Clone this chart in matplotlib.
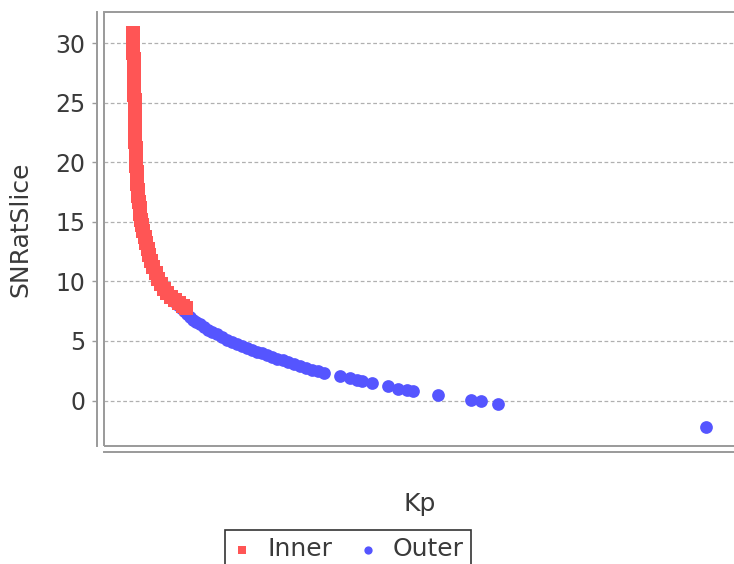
import numpy as np
import matplotlib
matplotlib.use('Agg')
from matplotlib import pyplot as plt
from matplotlib.patches import Rectangle

# Inner series (Kp, SNRatSlice)
inner_kp = [4.56, 4.56, 4.56, 4.59, 4.62, 4.64, 4.65, 4.69, 4.72, 4.72,
            4.75, 4.78, 4.81, 4.84, 4.86, 4.87, 4.89, 4.91, 4.94, 4.95,
            4.98, 5.02, 5.05, 5.08, 5.13, 5.19, 5.25, 5.33, 5.41, 5.50,
            5.60, 5.72, 5.86, 6.02, 6.19, 6.38, 6.60, 6.84, 7.11, 7.39,
            7.74, 8.11, 8.55, 8.96, 9.43, 9.98, 10.53, 11.16, 11.87, 12.42,
            12.97]
inner_snr = [30.9, 30.7, 30.2, 29.7, 29.2, 28.7, 28.2, 27.7, 27.2, 26.7,
             26.2, 25.7, 25.2, 24.7, 24.2, 23.7, 23.2, 22.7, 22.2, 21.7,
             21.2, 20.7, 20.2, 19.7, 19.2, 18.7, 18.2, 17.7, 17.2, 16.7,
             16.2, 15.7, 15.2, 14.7, 14.2, 13.7, 13.2, 12.7, 12.2, 11.7,
             11.2, 10.7, 10.2, 9.8, 9.4, 9.0, 8.7, 8.4, 8.15, 7.95,
             7.8]

# Outer series (Kp, SNRatSlice)
outer_kp = [11.16, 11.64, 12.11, 12.58, 13.05, 13.52, 14.00, 14.47, 15.09, 15.72,
            16.35, 16.98, 17.77, 18.55, 19.34, 20.13, 20.91, 21.70, 22.48, 23.27,
            24.06, 24.84, 25.63, 26.42, 27.20, 28.14, 28.93, 29.87, 30.82, 31.76,
            32.70, 33.65, 34.59, 37.11, 38.68, 39.73, 40.52, 42.09, 44.70, 46.27,
            47.59, 48.63, 52.56, 57.66, 59.28, 62.00, 94.65]
outer_snr = [8.25, 8.05, 7.8, 7.5, 7.25, 7.0, 6.8, 6.6, 6.4, 6.15,
             5.95, 5.75, 5.55, 5.3, 5.1, 4.9, 4.72, 4.55, 4.4, 4.25,
             4.1, 3.95, 3.8, 3.65, 3.5, 3.38, 3.22, 3.06, 2.9, 2.76,
             2.6, 2.47, 2.33, 2.10, 1.91, 1.74, 1.60, 1.45, 1.20, 0.98,
             0.90, 0.76, 0.50, 0.08, -0.06, -0.28, -2.24]

y_ticks = [0, 5, 10, 15, 20, 25, 30]

RED = '#FF5555'
BLUE = '#5555FF'
GRAY = '#9a9a9a'
TXT = '#3a3a3a'

fig = plt.figure(figsize=(7.34, 5.64), dpi=100)
ax = fig.add_axes([104 / 734, 118 / 564, 636 / 734, 434 / 564])

ax.scatter(outer_kp, outer_snr, marker='o', s=84, color=BLUE, linewidths=0, label='Outer', zorder=3)
ax.scatter(inner_kp, inner_snr, marker='s', s=98, color=RED, linewidths=0, label='Inner', zorder=4)

ax.set_xlim(0, 100)
ax.set_ylim(-3.82, 32.63)
ax.set_yticks(y_ticks)
ax.set_xticks([])

ax.grid(axis='y', color='#b0b0b0', linestyle=(0, (3, 2)), linewidth=0.9)
ax.set_axisbelow(True)

# plot box
ax.add_patch(Rectangle((0, 0), 1, 1, transform=ax.transAxes, fill=False,
                       edgecolor=GRAY, linewidth=1.4, clip_on=False, zorder=5))
ax.spines['top'].set_visible(False)
ax.spines['right'].set_visible(False)
for side, off in (('left', 4.7), ('bottom', 4.0)):
    ax.spines[side].set_position(('outward', off))
    ax.spines[side].set_color(GRAY)
    ax.spines[side].set_linewidth(1.4)

ax.tick_params(axis='y', direction='out', length=3.5, width=1, color=GRAY,
               pad=5, labelsize=17, labelcolor=TXT)

ax.set_ylabel('SNRatSlice', fontsize=18, color=TXT)
ax.yaxis.set_label_coords(-0.112, 0.5)
ax.set_xlabel('Kp', fontsize=18, color=TXT)
ax.xaxis.set_label_coords(0.497, -0.105)

handles, labels = ax.get_legend_handles_labels()
leg = fig.legend(handles[::-1], labels[::-1], loc='upper left',
                 bbox_to_anchor=(225 / 734, 1 - 530 / 564), borderaxespad=0,
                 ncol=2, fontsize=18, frameon=True, fancybox=False, edgecolor='black',
                 handlelength=0.8, handletextpad=0.6, columnspacing=1.0,
                 borderpad=0.3, markerscale=0.65)
leg.get_frame().set_linewidth(1.2)
for t in leg.get_texts():
    t.set_color(TXT)

fig.savefig('out.png', dpi=100)
